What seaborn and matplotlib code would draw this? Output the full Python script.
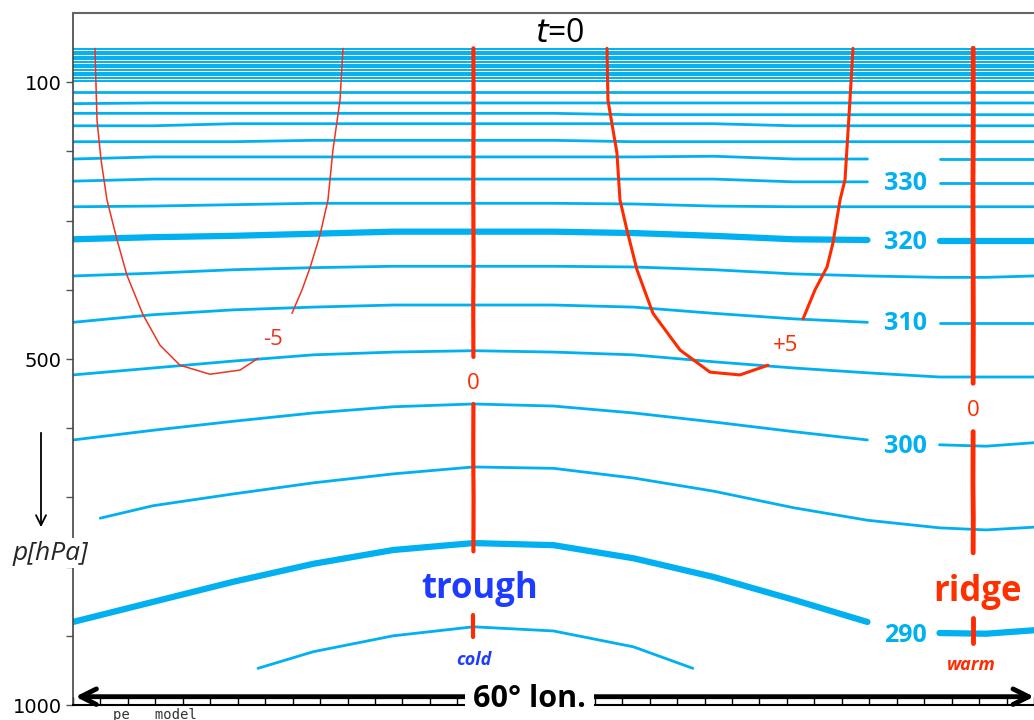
import numpy as np
import pandas as pd
import matplotlib
matplotlib.use("Agg")
import matplotlib.pyplot as plt
import seaborn as sns

sns.set_theme(style="white")
plt.rcParams['font.family'] = ['DejaVu Sans']

# ---------------- data ----------------
# longitude nodes (degrees along the 60° section)
lon = [0, 5, 10, 15, 20, 25, 30, 35, 40, 45, 49.6, 54.1, 57, 60]

# isentropes: pressure (hPa) at each longitude node
p360 = [114, 114, 114, 114, 114, 114, 114, 114, 114, 114, 114, 114, 114, 114]
p355 = [131, 130, 130, 130, 130, 130, 130, 130, 130, 130, 130, 130, 130, 130]
p350 = [145, 145, 145, 145, 145, 145, 145, 147, 147, 147, 147, 147, 147, 147]
p345 = [163, 163, 160, 160, 160, 160, 160, 160, 160, 163, 163, 163, 163, 163]
p340 = [186, 186, 186, 184, 184, 184, 184, 186, 186, 186, 186, 186, 186, 186]
p335 = [211, 208, 208, 208, 208, 208, 208, 208, 207, 211, 211, 211, 211, 211]
p330 = [243, 240, 240, 240, 240, 240, 240, 240, 240, 244, 244, 246, 246, 246]
p325 = [280, 279, 277, 275, 275, 275, 275, 276, 279, 280, 280, 280, 280, 280]
p320 = [327, 324, 322, 319, 316, 316, 316, 318, 322, 327, 328, 329, 329, 329]
p315 = [380, 376, 371, 368, 366, 366, 366, 367, 371, 377, 380, 382, 382, 380]
p310 = [447, 436, 429, 425, 422, 422, 422, 425, 434, 442, 447, 448, 448, 448]
p305 = [523, 513, 503, 494, 490, 488, 490, 494, 504, 513, 520, 526, 526, 526]
p300 = [617, 603, 590, 578, 569, 565, 568, 578, 591, 605, 617, 624, 626, 621]
lon_295 = [1.7, 5, 10, 15, 20, 25, 30, 35, 40, 45, 49.6, 54.1, 57, 60]
p295 = [730, 712, 695, 679, 666, 656, 658, 672, 691, 715, 733, 744, 747, 743]
p290 = [880, 851, 822, 796, 776, 766, 769, 788, 815, 848, 880, 896, 897, 892]
lon_285 = [11.55, 15, 20, 25, 30, 35, 38.7]
p285 = [947, 923, 900, 887, 893, 916, 947]

# densely packed stratospheric isentropes
band_p = [52, 56, 59, 63, 67, 71, 75, 78, 82, 86, 90, 94, 98]

# temperature-anomaly contours (lon, p)
m5_lon = [1.37, 1.50, 1.75, 2.12, 2.75, 3.37, 4.37, 5.43, 6.68, 8.55, 10.43, 11.55]
m5_p = [51, 155, 212, 270, 328, 379, 436, 480, 509, 522, 516, 499]
m5b_lon = [13.67, 14.30, 14.80, 15.42, 15.92, 16.23, 16.67, 16.86]
m5b_p = [434, 400, 368, 321, 270, 198, 126, 51]
p5_lon = [33.34, 33.40, 33.96, 34.15, 34.59, 35.21, 36.21, 37.90, 39.77, 41.64, 43.39]
p5_p = [51, 126, 202, 270, 314, 371, 434, 487, 519, 523, 509]
p5b_lon = [45.58, 46.33, 47.08, 47.45, 47.89, 48.20, 48.51, 48.70]
p5b_p = [442, 400, 367, 332, 270, 241, 126, 51]
z_tr_lon = [25.0, 25.01, 24.99, 25.01, 24.99, 25.0]
z_tr_p = [51, 150, 250, 350, 420, 497]
z_tr2_lon = [25.0, 24.99, 25.01, 25.0]
z_tr2_p = [565, 640, 700, 778]
z_tr3_lon = [25.0, 25.0]
z_tr3_p = [870, 902]
z_rd_lon = [56.2, 56.21, 56.19, 56.2, 56.21, 56.2]
z_rd_p = [51, 150, 250, 350, 450, 535]
z_rd2_lon = [56.2, 56.19, 56.21, 56.2]
z_rd2_p = [605, 680, 730, 780]
z_rd3_lon = [56.2, 56.2]
z_rd3_p = [874, 910]

theta_labels = ["330", "320", "310", "300", "290"]
theta_label_p = [247, 332, 448, 627, 900]

BLUE = "#00B0F0"
RED = "#FF2A00"

# ---------------- figure ----------------
fig = plt.figure(figsize=(10.34, 7.2), dpi=100)
ax = fig.add_axes([73 / 1034, 1 - 705 / 720, 961 / 1034, 692 / 720])


def line(x, y, color=BLUE, lw=2.0, z=2):
    df = pd.DataFrame({"x": x, "y": y})
    sns.lineplot(data=df, x="x", y="y", ax=ax, color=color, linewidth=lw,
                 sort=False, estimator=None, zorder=z)


def gapped(x, y, lw):
    x = np.asarray(x, float)
    y = np.asarray(y, float)
    left = x <= 49.6
    right = x >= 54.1
    line(x[left], y[left], lw=lw)
    line(x[right], y[right], lw=lw)


for bp in band_p:
    line([lon[0], lon[-1]], [bp, bp], lw=1.4)

for arr in [p360, p355, p350, p345, p340, p325, p315, p305]:
    line(lon, arr, lw=2.0)
for arr in [p335, p330, p310, p300]:
    gapped(lon, arr, lw=2.0)
gapped(lon, p320, lw=4.5)
gapped(lon, p290, lw=4.5)
line(lon_295, p295, lw=2.0)
line(lon_285, p285, lw=2.0)

# red anomaly contours
line(m5_lon, m5_p, color="#F0321E", lw=1.1, z=3)
line(m5b_lon, m5b_p, color="#F0321E", lw=1.1, z=3)
line(p5_lon, p5_p, color=RED, lw=2.2, z=3)
line(p5b_lon, p5b_p, color=RED, lw=2.2, z=3)
for xs, ys in [(z_tr_lon, z_tr_p), (z_tr2_lon, z_tr2_p), (z_tr3_lon, z_tr3_p)]:
    line(xs, ys, color=RED, lw=3.0, z=3)
for xs, ys in [(z_rd_lon, z_rd_p), (z_rd2_lon, z_rd2_p), (z_rd3_lon, z_rd3_p)]:
    line(xs, ys, color=RED, lw=3.5, z=3)

# ---------------- axes ----------------
ax.set_xlim(0, 60)
ax.set_ylim(1000, 0)
ax.set_xlabel("")
ax.set_ylabel("")
ax.set_yticks(np.arange(100, 1001, 100))
ax.set_yticklabels(["100", "", "", "", "500", "", "", "", "", "1000"], fontsize=14)
ax.set_xticks(np.arange(0, 60.01, 60 / 35))
ax.set_xticklabels([])
ax.tick_params(axis="y", direction="out", length=5, width=1, color="#555555",
               left=True, pad=3, labelcolor="black")
ax.tick_params(axis="x", direction="in", length=6, width=1, color="black", bottom=True)
ax.spines["right"].set_visible(False)
ax.spines["top"].set_color("#666666")
ax.spines["top"].set_linewidth(1.5)
ax.spines["left"].set_color("#444444")
ax.spines["left"].set_linewidth(1.2)
ax.spines["bottom"].set_color("black")
ax.spines["bottom"].set_linewidth(1.5)

# ---------------- texts ----------------
for lab, pp in zip(theta_labels, theta_label_p):
    ax.text(51.95, pp, lab, color=BLUE, fontsize=18, fontweight="bold",
            family="Open Sans", ha="center", va="center")

ax.text(12.5, 472, "-5", color="#F0321E", fontsize=16, family="Open Sans",
        ha="center", va="center")
ax.text(44.5, 481, "+5", color=RED, fontsize=16, family="Open Sans",
        ha="center", va="center")
ax.text(25.0, 535, "0", color=RED, fontsize=16, family="Open Sans",
        ha="center", va="center")
ax.text(56.2, 575, "0", color=RED, fontsize=16, family="Open Sans",
        ha="center", va="center")
ax.text(25.4, 833, "trough", color="#1E3CFF", fontsize=25, fontweight="bold",
        family="Open Sans", ha="center", va="center")
ax.text(56.45, 837, "ridge", color="#FF3000", fontsize=25, fontweight="bold",
        family="Open Sans", ha="center", va="center")
ax.text(25.0, 935, "cold", color="#1E3CFF", fontsize=13, fontweight="bold",
        style="italic", family="Open Sans", ha="center", va="center")
ax.text(56.1, 942, "warm", color=RED, fontsize=13, fontweight="bold",
        style="italic", family="Open Sans", ha="center", va="center")
ax.text(30.4, 29, "$t$=0", color="black", fontsize=23, family="Open Sans",
        ha="center", va="center")

# bottom longitude arrow
ax.annotate("", xy=(0.15, 988), xytext=(60, 988),
            arrowprops=dict(arrowstyle="<->", lw=3.5, color="black",
                            mutation_scale=28, shrinkA=0, shrinkB=0),
            annotation_clip=False, zorder=4)
ax.text(28.5, 992, "60° lon.", color="black", fontsize=22, fontweight="bold",
        family="Open Sans", ha="center", va="center", zorder=5,
        bbox=dict(facecolor="white", edgecolor="none", pad=6), clip_on=False)

# pressure label and arrow
fig.text(50 / 1034, 1 - 553 / 720, "p[hPa]", fontsize=19, style="italic",
         family="Open Sans", ha="center", va="center",
         bbox=dict(facecolor="white", edgecolor="none", pad=2), zorder=5)
fig.patches.append(matplotlib.patches.FancyArrowPatch(
    (41 / 1034, 1 - 430 / 720), (41 / 1034, 1 - 530 / 720),
    transform=fig.transFigure, arrowstyle="->", mutation_scale=18,
    lw=1.3, color="black"))
fig.text(113 / 1034, 1 - 708 / 720, "pe   model", fontsize=10,
         family="DejaVu Sans Mono", color="#333333", ha="left", va="top")

fig.savefig("out.png", dpi=100)
